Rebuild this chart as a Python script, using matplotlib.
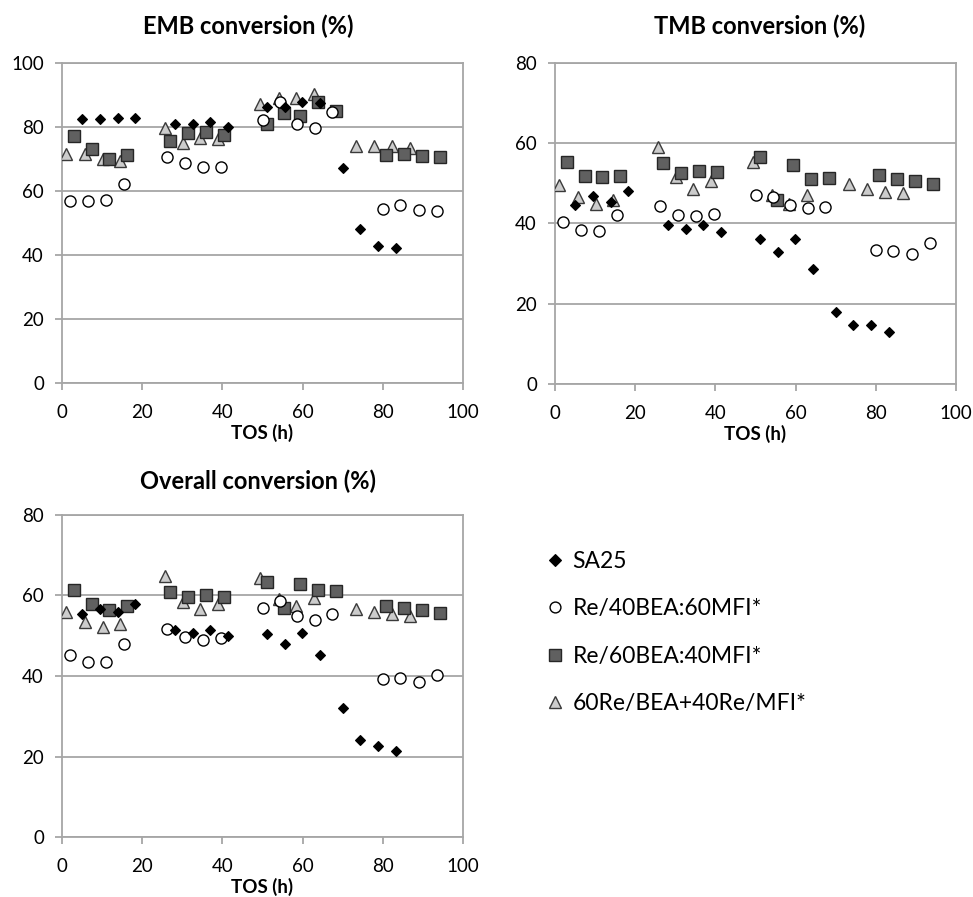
import matplotlib
matplotlib.use('Agg')
import matplotlib.pyplot as plt
import numpy as np

plt.rcParams['font.family'] = ['Lato', 'DejaVu Sans']

# Time on stream (h) for each catalyst
x_sa25 = [5.1, 9.5, 13.9, 18.3, 28.3, 32.7, 37.0, 41.4,
          51.2, 55.6, 59.9, 64.4, 70.1, 74.4, 78.7, 83.2]
x_re4060 = [2.1, 6.5, 11.0, 15.4, 26.2, 30.7, 35.1, 39.6,
            50.1, 54.4, 58.5, 63.0, 67.4, 80.0, 84.4, 89.0, 93.4]
x_re6040 = [2.9, 7.4, 11.8, 16.3, 27.0, 31.5, 36.0, 40.5,
            51.0, 55.4, 59.4, 63.9, 68.4, 80.8, 85.3, 89.8, 94.2]
x_mix = [1.1, 5.7, 10.1, 14.5, 25.6, 30.1, 34.5, 39.0,
         49.4, 54.0, 58.4, 62.9, 73.4, 77.8, 82.2, 86.7]

# EMB conversion (%)
emb_sa25 = [82.4, 82.6, 82.8, 82.8, 81.0, 81.0, 81.7, 80.0,
            86.4, 86.2, 87.9, 87.4, 67.3, 48.0, 42.8, 42.3]
emb_re4060 = [56.9, 56.9, 57.3, 62.3, 70.5, 68.8, 67.4, 67.6,
              82.3, 87.8, 81.0, 79.8, 84.7, 54.4, 55.5, 54.0, 53.8]
emb_re6040 = [77.2, 73.0, 69.9, 71.4, 75.6, 78.1, 78.4, 77.4,
              81.0, 84.5, 83.3, 87.8, 85.1, 71.1, 71.7, 70.9, 70.6]
emb_mix = [71.7, 71.7, 70.1, 69.4, 79.8, 75.1, 76.7, 76.4,
           87.3, 89.2, 89.2, 90.4, 74.0, 74.2, 74.0, 73.5]

# TMB conversion (%)
tmb_sa25 = [44.7, 46.8, 45.3, 48.0, 39.6, 38.6, 39.6, 37.9,
            36.2, 32.8, 36.2, 28.7, 17.9, 14.6, 14.6, 13.0]
tmb_re4060 = [40.4, 38.3, 38.2, 42.2, 44.4, 42.2, 41.8, 42.4,
              47.0, 46.6, 44.7, 43.9, 44.0, 33.4, 33.1, 32.3, 35.2]
tmb_re6040 = [55.3, 51.9, 51.5, 51.9, 55.1, 52.6, 53.2, 52.8,
              56.5, 45.8, 54.7, 51.0, 51.3, 52.1, 51.2, 50.7, 49.8]
tmb_mix = [49.5, 46.6, 44.9, 45.8, 59.0, 51.6, 48.6, 50.7,
           55.3, 47.1, 44.9, 47.1, 49.8, 48.6, 47.8, 47.7]

# Overall conversion (%)
all_sa25 = [55.4, 56.7, 55.9, 58.0, 51.5, 50.7, 51.5, 49.9,
            50.4, 47.9, 50.8, 45.3, 32.0, 24.1, 22.6, 21.3]
all_re4060 = [45.1, 43.6, 43.6, 47.9, 51.8, 49.6, 49.0, 49.4,
              56.8, 58.6, 55.0, 54.0, 55.4, 39.3, 39.6, 38.4, 40.3]
all_re6040 = [61.4, 57.8, 56.4, 57.4, 60.9, 59.7, 60.2, 59.7,
              63.4, 56.8, 62.9, 61.4, 61.0, 57.4, 56.9, 56.4, 55.6]
all_mix = [55.8, 53.4, 52.1, 52.8, 64.9, 58.3, 56.6, 57.8,
           64.4, 59.2, 57.4, 59.4, 56.7, 55.9, 55.3, 55.0]

labels = ['SA25', 'Re/40BEA:60MFI*', 'Re/60BEA:40MFI*', '60Re/BEA+40Re/MFI*']
grey = '#a6a6a6'

# marker styles per series (plot, legend)
styles = [
    dict(marker='D', mfc='black', mec='black', mew=0.8),
    dict(marker='o', mfc='white', mec='black', mew=1.0),
    dict(marker='s', mfc='#606060', mec='#262626', mew=1.0),
    dict(marker='^', mfc='#cccccc', mec='#3a3a3a', mew=1.0),
]
ms_plot = [5.4, 8.0, 8.0, 8.2]
ms_leg = [6.4, 7.8, 8.4, 8.4]

fig = plt.figure(figsize=(9.73, 8.97), dpi=100)
W, H = 973, 897


def add_panel(left, top, right, bottom, ymax, title, tx, ty, series):
    ax = fig.add_axes([left / W, 1 - bottom / H, (right - left) / W, (bottom - top) / H])
    for k in [3, 2, 1, 0]:
        xs, ys = series[k]
        ax.plot(xs, ys, linestyle='none', ms=ms_plot[k], zorder=3, **styles[k])
    ax.set_xlim(0, 100)
    ax.set_ylim(0, ymax)
    ax.set_xticks(np.arange(0, 101, 20))
    ax.set_yticks(np.arange(0, ymax + 1, 20))
    ax.yaxis.grid(True, color=grey, lw=1.3)
    ax.set_axisbelow(True)
    for s in ax.spines.values():
        s.set_color(grey)
        s.set_linewidth(1.3)
    ax.tick_params(axis='both', colors=grey, labelcolor='black', labelsize=13.5,
                   length=5, width=1.3, direction='out')
    ax.tick_params(axis='x', pad=10)
    ax.tick_params(axis='y', pad=8)
    ax.set_xlabel('TOS (h)', fontsize=13.5, fontweight='bold', labelpad=2)
    fig.text(tx / W, 1 - ty / H, title, fontsize=17, fontweight='bold',
             ha='center', va='center')
    return ax


add_panel(62, 63, 463, 383, 100, 'EMB conversion (%)', 248, 26,
          [(x_sa25, emb_sa25), (x_re4060, emb_re4060),
           (x_re6040, emb_re6040), (x_mix, emb_mix)])
add_panel(555, 63, 956, 384, 80, 'TMB conversion (%)', 760, 26,
          [(x_sa25, tmb_sa25), (x_re4060, tmb_re4060),
           (x_re6040, tmb_re6040), (x_mix, tmb_mix)])
add_panel(62, 515, 463, 837, 80, 'Overall conversion (%)', 258, 481,
          [(x_sa25, all_sa25), (x_re4060, all_re4060),
           (x_re6040, all_re6040), (x_mix, all_mix)])

leg_handles = [plt.Line2D([], [], linestyle='none', ms=ms_leg[k], **styles[k])
               for k in range(4)]
fig.legend(leg_handles, labels, loc='upper left', bbox_to_anchor=(544 / W, 1 - 551 / H),
           frameon=False, fontsize=16.5, handletextpad=0.25, labelspacing=1.15,
           handlelength=1.0, borderaxespad=0, borderpad=0)

fig.savefig('out.png', dpi=100)
